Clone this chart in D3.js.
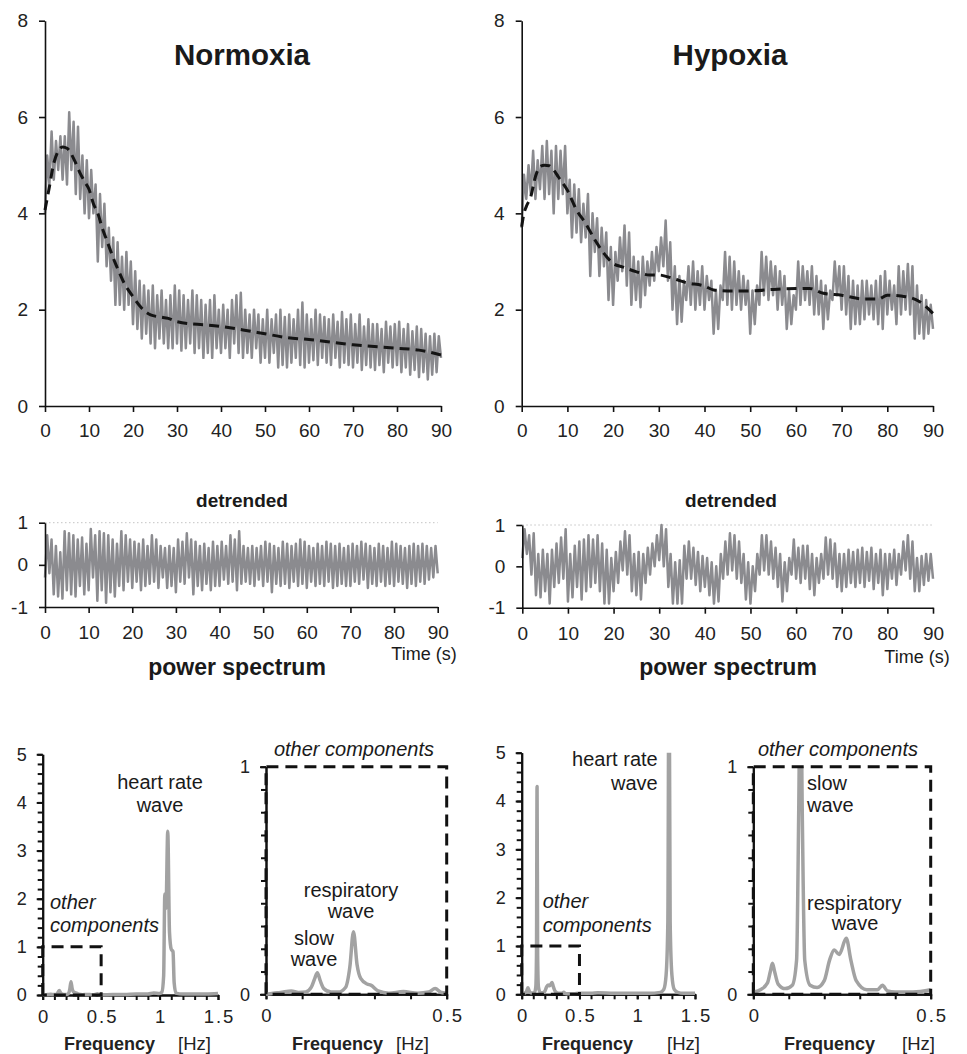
<!DOCTYPE html>
<html>
<head>
<meta charset="utf-8">
<script src="https://cdn.jsdelivr.net/npm/d3@7"></script>
<style>
  body { margin: 0; background: #fff; }
  svg { display: block; font-family: Arial, "Liberation Sans", sans-serif; }
</style>
</head>
<body>
<script>
// sample spacing of the recorded traces (seconds)
var sampleStep = 0.5;

var timeTicks = [0, 10, 20, 30, 40, 50, 60, 70, 80, 90];
var rawTicks = [0, 2, 4, 6, 8];
var detTicks = [-1, 0, 1];

// raw traces, one value every 0.5 s from 0 to 90 s
var normRaw = [
  4.0, 5.2, 4.6, 5.7, 4.7, 5.5, 4.9, 5.6, 4.7, 5.6,
  4.6, 6.1, 4.9, 5.9, 4.4, 5.8, 4.3, 5.2, 4.0, 5.1,
  3.9, 4.9, 4.0, 4.6, 3.0, 4.4, 3.3, 4.2, 2.9, 3.7,
  2.6, 3.5, 2.1, 3.4, 2.1, 3.1, 2.0, 3.2, 2.1, 3.0,
  1.7, 2.8, 1.6, 2.6, 1.4, 2.5, 1.5, 2.4, 1.3, 2.5,
  1.2, 2.3, 1.4, 2.4, 1.3, 2.2, 1.2, 2.3, 1.2, 2.5,
  1.3, 2.4, 1.15, 2.3, 1.2, 2.2, 1.3, 2.4, 1.1, 2.3,
  1.2, 2.2, 1.0, 2.1, 1.1, 2.2, 1.0, 2.3, 1.2, 2.0,
  1.1, 2.1, 1.2, 2.0, 1.0, 2.2, 1.3, 2.3, 1.1, 2.35,
  1.0, 2.0, 1.1, 1.9, 1.0, 2.0, 1.2, 1.9, 0.9, 1.8,
  1.0, 2.0, 0.9, 1.8, 1.1, 1.9, 0.8, 2.0, 0.85, 1.85,
  0.8, 1.9, 0.9, 1.8, 1.0, 2.0, 0.85, 2.15, 0.8, 1.9,
  0.9, 1.8, 0.95, 2.0, 0.85, 1.9, 1.0, 1.85, 0.9, 1.8,
  0.85, 1.9, 1.0, 1.75, 0.8, 1.95, 0.9, 1.8, 0.85, 1.9,
  0.8, 1.7, 0.9, 1.9, 0.75, 1.65, 0.85, 1.8, 0.8, 1.7,
  0.75, 1.7, 0.85, 1.6, 0.7, 1.75, 0.9, 1.65, 0.8, 1.7,
  0.85, 1.75, 0.7, 1.6, 0.8, 1.7, 0.65, 1.55, 0.75, 1.65,
  0.6, 1.6, 0.7, 1.5, 0.55, 1.45, 0.65, 1.5, 0.7, 1.45,
  1.0
];
var hypRaw = [
  3.7, 4.8, 4.3, 5.0, 4.4, 5.3, 4.3, 5.1, 4.5, 5.4,
  4.3, 5.5, 4.4, 5.3, 4.0, 5.4, 4.3, 5.3, 4.4, 5.4,
  4.0, 4.7, 3.5, 4.6, 3.6, 4.5, 3.4, 4.2, 3.5, 4.4,
  2.7, 4.0, 3.2, 3.9, 2.7, 3.7, 2.9, 3.6, 2.2, 3.3,
  2.1, 3.2, 2.6, 3.5, 2.8, 3.75, 2.5, 3.6, 2.1, 3.1,
  2.2, 3.0, 2.05, 3.1, 2.3, 3.0, 2.5, 3.2, 2.6, 3.3,
  2.8, 3.5, 2.9, 3.85, 2.6, 3.4, 2.0, 2.9, 1.7, 2.7,
  1.75, 2.6, 2.2, 2.9, 2.1, 3.0, 2.0, 2.8, 2.1, 2.9,
  2.0, 2.7, 2.2, 2.6, 1.5, 2.4, 1.6, 2.5, 2.2, 3.2,
  2.1, 3.1, 2.0, 3.0, 2.1, 2.8, 2.0, 2.7, 2.1, 2.6,
  1.5, 2.4, 1.7, 2.5, 2.1, 3.2, 2.3, 3.1, 2.2, 3.0,
  2.3, 2.9, 2.0, 2.8, 2.1, 2.7, 1.6, 2.4, 1.7, 2.3,
  2.0, 3.0, 2.1, 2.9, 2.2, 2.8, 2.1, 2.9, 1.9, 2.7,
  1.9, 2.6, 1.6, 2.5, 1.8, 2.4, 2.2, 3.0, 2.3, 2.9,
  2.0, 2.9, 1.9, 2.7, 1.6, 2.6, 1.7, 2.5, 1.7, 2.6,
  1.8, 2.6, 1.9, 2.5, 1.8, 2.6, 1.7, 2.7, 1.6, 2.8,
  1.9, 2.6, 2.0, 2.5, 1.7, 2.9, 1.9, 2.8, 2.0, 2.95,
  1.9, 2.9, 1.4, 2.5, 1.5, 2.3, 1.4, 2.2, 1.5, 2.1,
  1.6
];

// smoothed trend (dashed line)
var normTrendT = [0, 1, 2, 4, 5, 7, 8, 9, 10, 11, 12, 13, 14, 15, 16, 17, 18, 19, 20, 22, 24, 26, 28, 30, 40, 45, 50, 55, 60, 70, 80, 85, 90];
var normTrendV = [4.07, 4.55, 5.04, 5.38, 5.35, 5.04, 4.83, 4.66, 4.5, 4.2, 4.0, 3.7, 3.45, 3.2, 2.96, 2.75, 2.55, 2.4, 2.27, 2.03, 1.89, 1.85, 1.82, 1.75, 1.65, 1.58, 1.5, 1.42, 1.38, 1.27, 1.2, 1.16, 1.06];
var hypTrendT = [0, 0.5, 1, 2, 3, 4, 5, 6, 7, 8, 10, 12, 14, 16, 18, 20, 22, 25, 28, 30, 33, 36, 40, 42, 45, 50, 55, 60, 63, 66, 70, 75, 78, 80, 84, 87, 90];
var hypTrendV = [3.72, 4.0, 4.14, 4.35, 4.76, 4.97, 5.0, 4.99, 4.9, 4.76, 4.48, 4.07, 3.79, 3.45, 3.17, 2.96, 2.89, 2.79, 2.72, 2.72, 2.65, 2.56, 2.49, 2.41, 2.39, 2.39, 2.42, 2.44, 2.44, 2.34, 2.3, 2.22, 2.22, 2.3, 2.27, 2.17, 1.92];

// detrended traces, one value every 0.5 s
var normDet = [
  -0.3, 0.7, -0.2, 0.6, -0.7, 0.45, -0.75, 0.3, -0.8, 0.8,
  -0.6, 0.75, -0.7, 0.7, -0.75, 0.6, -0.5, 0.65, -0.7, 0.5,
  -0.6, 0.85, -0.3, 0.7, -0.85, 0.8, -0.6, 0.75, -0.9, 0.7,
  -0.65, 0.6, -0.75, 0.5, -0.5, 0.8, -0.6, 0.7, -0.4, 0.6,
  -0.55, 0.55, -0.4, 0.5, -0.6, 0.6, -0.5, 0.45, -0.45, 0.7,
  -0.4, 0.6, -0.55, 0.45, -0.3, 0.4, -0.55, 0.45, -0.5, 0.4,
  -0.65, 0.6, -0.4, 0.55, -0.45, 0.75, -0.3, 0.6, -0.7, 0.55,
  -0.5, 0.45, -0.6, 0.5, -0.45, 0.4, -0.6, 0.55, -0.5, 0.45,
  -0.5, 0.55, -0.35, 0.45, -0.45, 0.7, -0.4, 0.6, -0.6, 0.8,
  -0.45, 0.45, -0.4, 0.4, -0.45, 0.45, -0.5, 0.4, -0.35, 0.45,
  -0.5, 0.55, -0.4, 0.5, -0.65, 0.45, -0.45, 0.4, -0.5, 0.55,
  -0.45, 0.5, -0.55, 0.45, -0.4, 0.5, -0.5, 0.6, -0.45, 0.55,
  -0.55, 0.45, -0.4, 0.4, -0.5, 0.5, -0.45, 0.45, -0.5, 0.55,
  -0.4, 0.5, -0.55, 0.45, -0.5, 0.5, -0.45, 0.4, -0.5, 0.45,
  -0.5, 0.5, -0.4, 0.45, -0.45, 0.55, -0.35, 0.5, -0.55, 0.45,
  -0.45, 0.4, -0.5, 0.5, -0.4, 0.45, -0.5, 0.4, -0.45, 0.55,
  -0.5, 0.5, -0.4, 0.45, -0.45, 0.4, -0.55, 0.45, -0.45, 0.5,
  -0.5, 0.45, -0.4, 0.5, -0.45, 0.45, -0.35, 0.4, -0.3, 0.45,
  -0.2
];
var hypDet = [
  0.2, 0.9, 0.3, 0.75, -0.2, 0.8, -0.7, 0.3, -0.75, 0.4,
  -0.6, 0.3, -0.9, 0.4, -0.5, 0.55, -0.4, 0.7, -0.3, 0.9,
  -0.85, 0.3, -0.75, 0.5, -0.5, 0.6, -0.8, 0.65, -0.6, 0.75,
  -0.5, 0.65, -0.4, 0.75, -0.6, 0.55, -0.9, 0.4, -0.9, 0.2,
  -0.6, 0.35, -0.4, 0.6, -0.1, 0.85, -0.2, 0.75, -0.6, 0.3,
  -0.7, 0.35, -0.8, 0.3, -0.4, 0.45, -0.2, 0.55, 0.0, 0.75,
  0.15, 1.0, 0.0, 0.9, -0.5, 0.3, -0.9, 0.1, -0.9, 0.15,
  -0.9, 0.5, -0.3, 0.6, -0.3, 0.45, -0.45, 0.35, -0.6, 0.25,
  -0.5, 0.2, -0.7, 0.1, -0.9, 0.0, -0.85, 0.3, -0.3, 0.6,
  -0.2, 0.8, -0.1, 0.75, -0.3, 0.6, -0.4, 0.3, -0.8, 0.1,
  -0.9, 0.0, -0.6, 0.3, -0.2, 0.75, -0.1, 0.75, -0.2, 0.6,
  -0.3, 0.45, -0.5, 0.3, -0.85, 0.1, -0.6, 0.2, -0.2, 0.65,
  -0.3, 0.45, -0.4, 0.5, -0.3, 0.5, -0.55, 0.3, -0.7, 0.2,
  -0.4, 0.3, -0.3, 0.7, -0.2, 0.65, -0.3, 0.55, -0.5, 0.3,
  -0.6, 0.3, -0.5, 0.4, -0.4, 0.35, -0.5, 0.4, -0.4, 0.45,
  -0.5, 0.35, -0.35, 0.45, -0.55, 0.3, -0.4, 0.4, -0.7, 0.3,
  -0.55, 0.3, -0.3, 0.4, -0.45, 0.3, -0.2, 0.6, -0.1, 0.75,
  -0.3, 0.6, -0.6, 0.2, -0.6, 0.25, -0.45, 0.3, -0.35, 0.3,
  -0.3
];

// power spectra (frequency in Hz, power)
var normFreq = [0, 0.02, 0.04, 0.07, 0.09, 0.11, 0.125, 0.135, 0.142, 0.15, 0.16, 0.18, 0.2, 0.22, 0.232, 0.242, 0.252, 0.262, 0.28, 0.29, 0.31, 0.34, 0.38, 0.42, 0.45, 0.468, 0.485, 0.5, 0.6, 0.7, 0.8, 0.9, 0.95, 1.0, 1.02, 1.035, 1.045, 1.055, 1.07, 1.085, 1.1, 1.115, 1.125, 1.14, 1.2, 1.3, 1.4, 1.5];
var normPower = [0, 0.005, 0.008, 0.015, 0.008, 0.01, 0.03, 0.07, 0.095, 0.06, 0.025, 0.01, 0.01, 0.03, 0.12, 0.275, 0.13, 0.07, 0.045, 0.04, 0.015, 0.005, 0.012, 0.005, 0.01, 0.025, 0.008, 0.005, 0.01, 0.01, 0.02, 0.02, 0.04, 0.03, 0.06, 0.4, 2.1, 1.8, 3.4, 1.3, 0.95, 0.9, 0.25, 0.04, 0.02, 0.02, 0.02, 0.03];
var hypFreq = [0, 0.02, 0.04, 0.048, 0.054, 0.06, 0.07, 0.09, 0.11, 0.122, 0.128, 0.133, 0.138, 0.145, 0.16, 0.18, 0.2, 0.215, 0.228, 0.242, 0.262, 0.275, 0.29, 0.32, 0.35, 0.364, 0.378, 0.4, 0.45, 0.5, 0.6, 0.66, 0.8, 1.0, 1.1, 1.2, 1.23, 1.25, 1.265, 1.275, 1.285, 1.3, 1.32, 1.35, 1.4, 1.5];
var hypPower = [0.01, 0.02, 0.05, 0.1, 0.136, 0.1, 0.045, 0.025, 0.04, 0.15, 0.8, 4.3, 0.8, 0.15, 0.04, 0.03, 0.06, 0.15, 0.195, 0.175, 0.246, 0.15, 0.06, 0.02, 0.02, 0.04, 0.015, 0.01, 0.01, 0.02, 0.02, 0.03, 0.02, 0.02, 0.02, 0.04, 0.1, 0.4, 1.5, 8, 1.5, 0.4, 0.1, 0.04, 0.02, 0.02];

var svg = d3.select("body").append("svg")
    .attr("width", 967)
    .attr("height", 1054);

var traceColor = "#8b8b8f";
var specColor = "#a2a2a2";
var clipId = 0;
var plain = function(d) { return String(d); };   // "-1" with a hyphen, like the original

function styleAxis(g, fs, sw) {
  g.attr("font-family", null).attr("font-size", fs);
  g.selectAll(".domain").attr("stroke", "#111").attr("stroke-width", sw);
  g.selectAll(".tick line").attr("stroke", "#111").attr("stroke-width", sw);
  g.selectAll(".tick text").attr("fill", "#222");
}

function asSeries(values) {
  return values.map(function(v, i) { return [i * sampleStep, v]; });
}

// time trace panel (raw or detrended)
function tracePanel(o) {
  var x = d3.scaleLinear().domain([0, 90]).range([o.x0, o.x1]);
  var y = d3.scaleLinear().domain(o.yDomain).range([o.yBot, o.yTop]);

  if (o.dotted) {
    svg.append("line")
        .attr("x1", x(0)).attr("x2", x(90))
        .attr("y1", y(1)).attr("y2", y(1))
        .attr("stroke", "#c4c4c4")
        .attr("stroke-width", 1)
        .attr("stroke-dasharray", "1.5,2.5");
  }

  var line = d3.line()
      .x(function(d) { return x(d[0]); })
      .y(function(d) { return y(d[1]); });

  svg.append("path")
      .datum(asSeries(o.values))
      .attr("fill", "none")
      .attr("stroke", traceColor)
      .attr("stroke-width", 2.5)
      .attr("stroke-linejoin", "round")
      .attr("d", line);

  if (o.trendT) {
    var trend = o.trendT.map(function(t, i) { return [t, o.trendV[i]]; });
    svg.append("path")
        .datum(trend)
        .attr("fill", "none")
        .attr("stroke", "#141414")
        .attr("stroke-width", 3)
        .attr("stroke-dasharray", "10,6")
        .attr("d", line.curve(d3.curveMonotoneX));
  }

  var gy = svg.append("g")
      .attr("transform", "translate(" + o.x0 + ",0)")
      .call(d3.axisLeft(y).tickValues(o.yTicks).tickSize(6).tickSizeOuter(0).tickPadding(11).tickFormat(plain));
  styleAxis(gy, 19, 1.6);

  var gx = svg.append("g")
      .attr("transform", "translate(0," + o.yBot + ")")
      .call(d3.axisBottom(x).tickValues(timeTicks).tickSize(6).tickSizeOuter(0).tickPadding(o.xPad).tickFormat(plain));
  styleAxis(gx, 19, 1.6);
}

// power spectrum panel
function specPanel(o) {
  var x = d3.scaleLinear().domain([0, o.xMax]).range([o.x0, o.x1]);
  var y = d3.scaleLinear().domain([0, o.yMax]).range([o.yBot, o.yTop]);

  clipId++;
  svg.append("clipPath").attr("id", "clip" + clipId)
    .append("rect")
      .attr("x", o.x0 - 2).attr("y", o.yTop)
      .attr("width", o.x1 - o.x0 + 4).attr("height", o.yBot - o.yTop + 4);

  // minor ticks
  var gyMinor = svg.append("g")
      .attr("transform", "translate(" + o.x0 + ",0)")
      .call(d3.axisLeft(y).tickValues(o.yMinor).tickSize(5).tickSizeOuter(0).tickFormat(""));
  styleAxis(gyMinor, 16, 2);
  var gxMinor = svg.append("g")
      .attr("transform", "translate(0," + o.yBot + ")")
      .call(d3.axisBottom(x).tickValues(o.xMinor).tickSize(5).tickSizeOuter(0).tickFormat(""));
  styleAxis(gxMinor, 16, 2);

  // labelled ticks
  var gy = svg.append("g")
      .attr("transform", "translate(" + o.x0 + ",0)")
      .call(d3.axisLeft(y).tickValues(o.yLabels).tickSize(6).tickSizeOuter(0).tickPadding(10).tickFormat(plain));
  styleAxis(gy, 18, 2);
  var gx = svg.append("g")
      .attr("transform", "translate(0," + o.yBot + ")")
      .call(d3.axisBottom(x).tickValues(o.xLabels).tickSize(5).tickSizeOuter(0).tickPadding(10).tickFormat(plain));
  styleAxis(gx, 18.5, 2);
  gx.selectAll(".tick text").attr("letter-spacing", 2).attr("dx", 1);

  var pts = o.freq.map(function(f, i) { return [f, o.power[i]]; })
      .filter(function(d) { return d[0] <= o.xMax + 1e-9; });

  svg.append("path")
      .datum(pts)
      .attr("clip-path", "url(#clip" + clipId + ")")
      .attr("fill", "none")
      .attr("stroke", specColor)
      .attr("stroke-width", 3.5)
      .attr("stroke-linejoin", "round")
      .attr("d", d3.line()
          .curve(d3.curveMonotoneX)
          .x(function(d) { return x(d[0]); })
          .y(function(d) { return y(Math.min(d[1], o.yMax * 1.5)); }));

  // dashed box marking the "other components" region
  svg.append("path")
      .attr("fill", "none")
      .attr("stroke", "#111")
      .attr("stroke-width", 3)
      .attr("stroke-dasharray", "12,7")
      .attr("d", "M" + x(0) + "," + y(0) + "V" + y(1) + "H" + x(0.5) + "V" + y(0) + "H" + x(0));

  // axis title
  svg.append("text")
      .attr("x", o.freqX).attr("y", 1050)
      .attr("font-size", 18).attr("font-weight", "bold").attr("fill", "#222")
      .text("Frequency");
  svg.append("text")
      .attr("x", o.hzX).attr("y", 1050)
      .attr("font-size", 18.5).attr("fill", "#222")
      .text("[Hz]");
}

function label(txt, xPos, yPos, opts) {
  opts = opts || {};
  svg.append("text")
      .attr("x", xPos).attr("y", yPos)
      .attr("text-anchor", opts.anchor || "middle")
      .attr("font-size", opts.size || 20)
      .attr("font-weight", opts.bold ? "bold" : null)
      .attr("font-style", opts.italic ? "italic" : null)
      .attr("fill", "#1a1a1a")
      .text(txt);
}

// raw traces
tracePanel({x0: 45, x1: 441, yTop: 20.7, yBot: 406, yDomain: [0, 8], yTicks: rawTicks,
  values: normRaw, trendT: normTrendT, trendV: normTrendV, xPad: 12});
tracePanel({x0: 521.7, x1: 933, yTop: 20.7, yBot: 406, yDomain: [0, 8], yTicks: rawTicks,
  values: hypRaw, trendT: hypTrendT, trendV: hypTrendV, xPad: 12});
label("Normoxia", 242, 65, {size: 29.5, bold: true});
label("Hypoxia", 730, 65, {size: 29.5, bold: true});

// detrended traces
tracePanel({x0: 45, x1: 437.7, yTop: 522.7, yBot: 607, yDomain: [-1, 1], yTicks: detTicks,
  values: normDet, dotted: true, xPad: 13});
tracePanel({x0: 522.3, x1: 933, yTop: 525, yBot: 607.7, yDomain: [-1, 1], yTicks: detTicks,
  values: hypDet, dotted: true, xPad: 13});
label("detrended", 242, 507, {size: 19, bold: true});
label("detrended", 731, 507, {size: 19, bold: true});
label("Time (s)", 424, 660, {size: 18});
label("Time (s)", 917, 663, {size: 18});
label("power spectrum", 237, 675, {size: 23, bold: true});
label("power spectrum", 728, 675, {size: 23, bold: true});

// spectra
var minor5 = d3.range(0, 5.01, 0.2);
var minor1 = d3.range(0, 1.01, 0.1);
var minorX15 = d3.range(0, 1.51, 0.1);
var minorX05 = d3.range(0, 0.51, 0.1);

specPanel({x0: 42.7, x1: 218, yTop: 754.3, yBot: 995, xMax: 1.5, yMax: 5,
  yMinor: minor5, xMinor: minorX15, yLabels: [0, 1, 2, 3, 4, 5], xLabels: [0, 0.5, 1, 1.5],
  freq: normFreq, power: normPower, freqX: 64, hzX: 178});
specPanel({x0: 266, x1: 446.7, yTop: 766.7, yBot: 994.3, xMax: 0.5, yMax: 1,
  yMinor: minor1, xMinor: minorX05, yLabels: [0, 1], xLabels: [0, 0.5],
  freq: normFreq, power: normPower, freqX: 292, hzX: 396});
specPanel({x0: 521.7, x1: 695, yTop: 752.7, yBot: 994.3, xMax: 1.5, yMax: 5,
  yMinor: minor5, xMinor: minorX15, yLabels: [0, 1, 2, 3, 4, 5], xLabels: [0, 0.5, 1, 1.5],
  freq: hypFreq, power: hypPower, freqX: 542, hzX: 667});
specPanel({x0: 753.3, x1: 930.7, yTop: 766.7, yBot: 994.3, xMax: 0.5, yMax: 1,
  yMinor: minor1, xMinor: minorX05, yLabels: [0, 1], xLabels: [0, 0.5],
  freq: hypFreq, power: hypPower, freqX: 784, hzX: 902});

// annotations
label("heart rate", 160, 789);
label("wave", 160, 812);
label("other", 50, 909, {anchor: "start", italic: true});
label("components", 50, 932, {anchor: "start", italic: true});
label("other components", 354, 756, {italic: true});
label("respiratory", 351, 897);
label("wave", 351, 918);
label("slow", 314, 945);
label("wave", 314, 966);

label("heart rate", 657.7, 766, {anchor: "end"});
label("wave", 657.7, 790, {anchor: "end"});
label("other", 542.7, 908, {anchor: "start", italic: true});
label("components", 542.7, 932, {anchor: "start", italic: true});
label("other components", 838, 756, {italic: true});
label("slow", 807, 790, {anchor: "start"});
label("wave", 807, 812, {anchor: "start"});
label("respiratory", 807, 910, {anchor: "start"});
label("wave", 855, 930);
</script>
</body>
</html>
